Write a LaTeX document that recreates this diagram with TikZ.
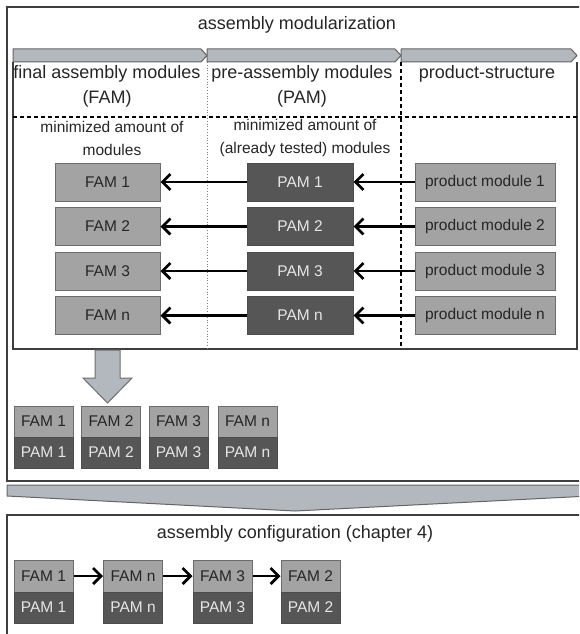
\documentclass[tikz,border=0pt]{standalone}
\usepackage{fontspec}
\setmainfont{Liberation Sans}
\usetikzlibrary{arrows.meta}
\definecolor{boxlight}{HTML}{A3A3A3}
\definecolor{boxdark}{HTML}{565656}
\definecolor{boxedge}{HTML}{6C6C6C}
\definecolor{bandfill}{HTML}{B3B8BF}
\definecolor{framecol}{HTML}{3E3E3E}
\definecolor{inktext}{HTML}{262626}
\definecolor{paletext}{HTML}{E6E6E6}

\begin{document}
\begin{tikzpicture}[x=1pt,y=-1pt,
  lite/.style={draw=boxedge, fill=boxlight, line width=1pt, inner sep=0pt,
    text=inktext, font=\fontsize{15.5}{17}\selectfont},
  dark/.style={draw=boxedge!70!black, fill=boxdark, line width=1pt, inner sep=0pt,
    text=paletext, font=\fontsize{15.5}{17}\selectfont},
  rowbox/.style={minimum height=38pt},
  stackbox/.style={minimum width=59pt, minimum height=31pt},
  heading/.style={text=inktext, align=center, font=\fontsize{18}{25}\selectfont, inner sep=0pt},
  note/.style={text=inktext, align=center, font=\fontsize{15.5}{23}\selectfont, inner sep=0pt},
  flow/.style={draw=black, line width=2.6pt,
    -{Straight Barb[length=8pt,width=16pt,line width=2.8pt]}},
  band/.style={fill=bandfill, draw=framecol!80, line width=1pt, line join=round},
  frame/.style={draw=framecol, line width=1.8pt}]

\useasboundingbox (0,0) rectangle (579,634);
\clip (0,0) rectangle (579,634);
\fill[white] (0,0) rectangle (579,634);

% ---------- upper section: assembly modularization ----------
\draw[frame] (590,7) -- (7,7) -- (7,481) -- (590,481);
\node[heading] (title1) at (297,25) {assembly modularization};

% column chevrons
\foreach \xa/\xb in {13/207, 207/401, 401/577}
  \filldraw[band] (\xa,49) -- (\xb-6,49) -- (\xb,55.5) -- (\xb-6,62) -- (\xa,62) -- cycle;

% inner panel
\draw[draw=framecol, line width=1.2pt] (13,62) -- (13,349) -- (577,349) -- (577,62);
\draw[gray, line width=0.8pt, dotted] (207,62) -- (207,349);
\draw[black, line width=1.3pt, dash pattern=on 4pt off 3pt] (401,62) -- (401,349);
\draw[black, line width=1.3pt, dash pattern=on 4pt off 3pt] (13,117) -- (577,117);

% column headings
\node[heading] (hfam) at (107,86) {final assembly modules\\(FAM)};
\node[heading] (hpam) at (302,86) {pre-assembly modules\\(PAM)};
\node[heading] (hprod) at (487,74) {product-structure};
\node[note] (nfam) at (112,138) {minimized amount of\\modules};
\node[note] (npam) at (305,138) {minimized amount of\\(already tested) modules};

% module rows
\foreach \i/\yy in {1/182, 2/226.5, 3/271, n/315.5} {
  \node[lite, rowbox, minimum width=105pt] (fam\i) at (107.5,\yy) {FAM \i};
  \node[dark, rowbox, minimum width=106pt] (pam\i) at (300,\yy) {PAM \i};
  \node[lite, rowbox, minimum width=140pt] (prod\i) at (485,\yy) {product module \i};
  \draw[flow] (prod\i.west) -- (pam\i.east);
  \draw[flow] (pam\i.west) -- (fam\i.east);
}

% transfer arrow
\filldraw[fill=bandfill, draw=framecol!75, line width=1pt, line join=miter]
  (95,350) -- (120,350) -- (120,378) -- (132,378) -- (107.5,403)
  -- (83,378) -- (95,378) -- cycle;

% combined modules
\foreach \i/\xx in {1/43.5, 2/111, 3/178.5, n/247.5} {
  \node[lite, stackbox] (sf\i) at (\xx,421.5) {FAM \i};
  \node[dark, stackbox] (sp\i) at (\xx,452.5) {PAM \i};
}

% transition band
\filldraw[band] (7,485) -- (590,485) -- (590,496) -- (295,511) -- (7,496) -- cycle;

% ---------- lower section: assembly configuration ----------
\draw[frame] (590,515) -- (7,515) -- (7,640);
\node[heading] (title2) at (295,534) {assembly configuration (chapter 4)};

\node[lite, stackbox, minimum height=32pt] (cf1) at (43.5,576) {FAM 1};
\node[dark, stackbox] (cp1) at (43.5,607.5) {PAM 1};
\node[lite, stackbox, minimum height=32pt] (cfn) at (133,576) {FAM n};
\node[dark, stackbox] (cpn) at (133,607.5) {PAM n};
\node[lite, stackbox, minimum height=32pt] (cf3) at (222.5,576) {FAM 3};
\node[dark, stackbox] (cp3) at (222.5,607.5) {PAM 3};
\node[lite, stackbox, minimum height=32pt] (cf2) at (310.5,576) {FAM 2};
\node[dark, stackbox] (cp2) at (310.5,607.5) {PAM 2};

\draw[flow] (cf1.east) -- (cfn.west);
\draw[flow] (cfn.east) -- (cf3.west);
\draw[flow] (cf3.east) -- (cf2.west);
\end{tikzpicture}
\end{document}
